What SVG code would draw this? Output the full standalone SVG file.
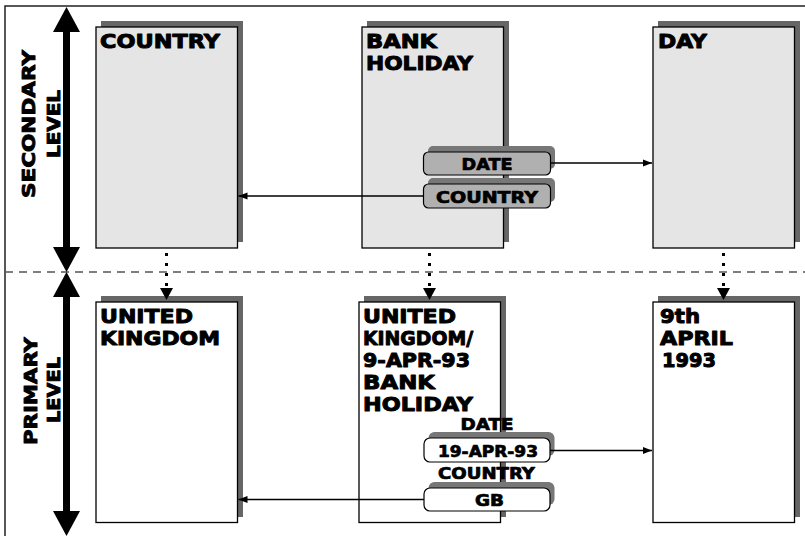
<svg xmlns="http://www.w3.org/2000/svg" width="805" height="536" viewBox="0 0 805 536">
<style>
  .t { font-family: "DejaVu Sans", "Liberation Sans", sans-serif; font-weight: bold; fill: #000; stroke: #000; stroke-linejoin: round; }
  .title { font-size: 20px; stroke-width: 1; }
  .pt { font-size: 15px; text-anchor: middle; stroke-width: 0.7; }
  .side { font-size: 18px; text-anchor: middle; stroke-width: 0.9; }
  .shadow { fill: #666; }
  .sec { fill: #e5e5e5; stroke: #000; stroke-width: 1.3; }
  .pri { fill: #fff; stroke: #000; stroke-width: 1.3; }
  .pillS { fill: #b0b0b0; stroke: #000; stroke-width: 1.2; }
  .pillP { fill: #fff; stroke: #000; stroke-width: 1.2; }
  .pshadow { fill: #777; }
  .conn { stroke: #000; stroke-width: 1.5; fill: none; }
  .dot { stroke: #000; stroke-width: 3; stroke-dasharray: 3 7; fill: none; }
</style>
<defs>
  <marker id="ah" markerUnits="userSpaceOnUse" markerWidth="9" markerHeight="8" refX="9" refY="4" orient="auto">
    <path d="M0,0.5 L9,4 L0,7.5 z" fill="#000"/>
  </marker>
  <marker id="ahd" markerUnits="userSpaceOnUse" markerWidth="14" markerHeight="13" refX="12" refY="6.5" orient="auto">
    <path d="M0,0 L12,6.5 L0,13 z" fill="#000"/>
  </marker>
</defs>

<!-- frame -->
<g id="frame">
  <rect x="5" y="6" width="820" height="560" fill="none" stroke="#222" stroke-width="1.5"/>
  <line x1="5" y1="272" x2="805" y2="272" stroke="#555" stroke-width="1.5" stroke-dasharray="8 6"/>
</g>

<!-- level axes -->
<g id="secondary-level">
  <rect x="63" y="30" width="7" height="218" fill="#000"/>
  <polygon points="66.5,7 53,32 80,32" fill="#000"/>
  <polygon points="66.5,272 53,247 80,247" fill="#000"/>
  <text class="t side" transform="translate(35,124) rotate(-90)" textLength="148" lengthAdjust="spacingAndGlyphs">SECONDARY</text>
  <text class="t side" transform="translate(60,124) rotate(-90)" textLength="68" lengthAdjust="spacingAndGlyphs">LEVEL</text>
</g>
<g id="primary-level">
  <rect x="63" y="295" width="7" height="218" fill="#000"/>
  <polygon points="66.5,272 53,297 80,297" fill="#000"/>
  <polygon points="66.5,536 53,511 80,511" fill="#000"/>
  <text class="t side" transform="translate(36.5,391) rotate(-90)" textLength="108" lengthAdjust="spacingAndGlyphs">PRIMARY</text>
  <text class="t side" transform="translate(60,390) rotate(-90)" textLength="66" lengthAdjust="spacingAndGlyphs">LEVEL</text>
</g>

<!-- secondary nodes -->
<g id="sec-country">
  <rect class="shadow" x="101" y="21" width="142" height="221"/>
  <rect class="sec" x="96" y="27" width="141.5" height="221"/>
  <text class="t title" x="100" y="48" textLength="120" lengthAdjust="spacingAndGlyphs">COUNTRY</text>
</g>
<g id="sec-bank-holiday">
  <rect class="shadow" x="367" y="21" width="142" height="221"/>
  <rect class="sec" x="362" y="27" width="141.5" height="221"/>
  <text class="t title" x="366" y="48" textLength="71" lengthAdjust="spacingAndGlyphs">BANK</text>
  <text class="t title" x="366" y="70" textLength="107" lengthAdjust="spacingAndGlyphs">HOLIDAY</text>
</g>
<g id="sec-date-pill">
  <rect class="pshadow" x="428" y="146" width="127" height="23" rx="5"/>
  <rect class="pillS" x="423.5" y="152" width="127" height="23" rx="5"/>
  <text class="t pt" x="487" y="169.5" textLength="51" lengthAdjust="spacingAndGlyphs">DATE</text>
</g>
<g id="sec-country-pill">
  <rect class="pshadow" x="428" y="178" width="127" height="24" rx="5"/>
  <rect class="pillS" x="423.5" y="184" width="127" height="24" rx="5"/>
  <text class="t pt" x="487" y="202.5" textLength="102" lengthAdjust="spacingAndGlyphs">COUNTRY</text>
</g>
<g id="sec-day">
  <rect class="shadow" x="658" y="21" width="142" height="221"/>
  <rect class="sec" x="653" y="27" width="141.5" height="221"/>
  <text class="t title" x="658" y="48" textLength="49" lengthAdjust="spacingAndGlyphs">DAY</text>
</g>

<!-- primary nodes -->
<g id="pri-uk">
  <rect class="shadow" x="101" y="296" width="142" height="221"/>
  <rect class="pri" x="96" y="302" width="141.5" height="220.5"/>
  <text class="t title" x="100" y="323" textLength="93" lengthAdjust="spacingAndGlyphs">UNITED</text>
  <text class="t title" x="100" y="345" textLength="120" lengthAdjust="spacingAndGlyphs">KINGDOM</text>
</g>
<g id="pri-bank-holiday">
  <rect class="shadow" x="364" y="296" width="142" height="221"/>
  <rect class="pri" x="359" y="302" width="141.5" height="220.5"/>
  <text class="t title" x="363" y="323" textLength="93" lengthAdjust="spacingAndGlyphs">UNITED</text>
  <text class="t title" x="363" y="345" textLength="110" lengthAdjust="spacingAndGlyphs">KINGDOM/</text>
  <text class="t title" x="363" y="367" textLength="107" lengthAdjust="spacingAndGlyphs">9-APR-93</text>
  <text class="t title" x="363" y="389" textLength="72" lengthAdjust="spacingAndGlyphs">BANK</text>
  <text class="t title" x="363" y="411" textLength="110" lengthAdjust="spacingAndGlyphs">HOLIDAY</text>
  <text class="t pt" x="487" y="430" textLength="53" lengthAdjust="spacingAndGlyphs">DATE</text>
  <text class="t pt" x="486.5" y="478.5" textLength="97" lengthAdjust="spacingAndGlyphs">COUNTRY</text>
</g>
<g id="pri-date-pill">
  <rect class="pshadow" x="428.5" y="432" width="126" height="24" rx="6"/>
  <rect class="pillP" x="424" y="438" width="126" height="24" rx="6"/>
  <text class="t pt" x="488" y="456.5" textLength="100" lengthAdjust="spacingAndGlyphs">19-APR-93</text>
</g>
<g id="pri-country-pill">
  <rect class="pshadow" x="428.5" y="482" width="126" height="23" rx="6"/>
  <rect class="pillP" x="424" y="488" width="126" height="23" rx="6"/>
  <text class="t pt" x="489.5" y="505.5" textLength="29" lengthAdjust="spacingAndGlyphs">GB</text>
</g>
<g id="pri-day">
  <rect class="shadow" x="658" y="296" width="142" height="221"/>
  <rect class="pri" x="653" y="302" width="141.5" height="220.5"/>
  <text class="t title" x="660" y="323" textLength="40" lengthAdjust="spacingAndGlyphs">9th</text>
  <text class="t title" x="660" y="345" textLength="73" lengthAdjust="spacingAndGlyphs">APRIL</text>
  <text class="t title" x="662" y="367" textLength="54" lengthAdjust="spacingAndGlyphs">1993</text>
</g>

<!-- connectors -->
<g id="connectors">
  <line class="conn" x1="550.5" y1="163" x2="652" y2="163" marker-end="url(#ah)"/>
  <line class="conn" x1="423.5" y1="196" x2="238.5" y2="196" marker-end="url(#ah)"/>
  <line class="conn" x1="550" y1="450.5" x2="652" y2="450.5" marker-end="url(#ah)"/>
  <line class="conn" x1="424" y1="499.5" x2="238.5" y2="499.5" marker-end="url(#ah)"/>
  <line class="dot" x1="166.5" y1="253" x2="166.5" y2="300" marker-end="url(#ahd)"/>
  <line class="dot" x1="429.5" y1="253" x2="429.5" y2="300" marker-end="url(#ahd)"/>
  <line class="dot" x1="723.5" y1="253" x2="723.5" y2="300" marker-end="url(#ahd)"/>
</g>
</svg>
